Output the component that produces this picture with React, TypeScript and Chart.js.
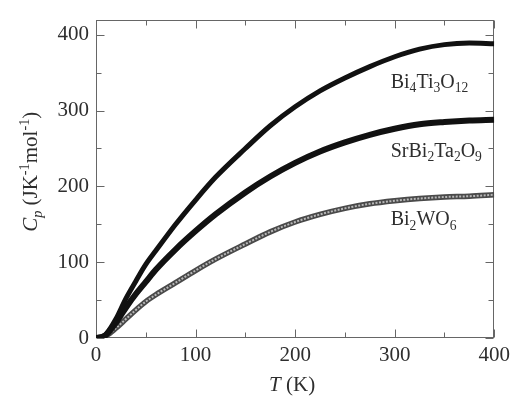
import React, { useEffect, useRef } from "react";
import { Chart, registerables } from "chart.js";

Chart.register(...registerables);

// Temperature (K)
const temperatures = [0, 5, 10, 20, 30, 40, 50, 60, 80, 100, 120, 150, 175, 200, 225, 250, 275, 300, 325, 350, 375, 400];
// Cp (J K^-1 mol^-1)
const bi4ti3o12 = [0, 1, 5, 25, 52, 75, 97, 115, 150, 182, 212, 250, 280, 305, 326, 343, 358, 371, 381, 387, 389, 388];
const srbi2ta2o9 = [0, 1, 4, 20, 40, 58, 74, 90, 117, 141, 163, 192, 213, 231, 246, 258, 268, 276, 282, 285, 287, 288];
const bi2wo6 = [0, 1, 3, 13, 25, 37, 48, 57, 73, 89, 104, 124, 140, 153, 163, 171, 177, 181, 184, 186, 187, 189];

const xTickValues = [0, 100, 200, 300, 400];
const yTickValues = [0, 100, 200, 300, 400];
const minorTickValues = [50, 150, 250, 350];

type Seg = { t: string; it?: boolean; pos?: "sub" | "sup" };

const seriesLabels: { x: number; y: number; segs: Seg[] }[] = [
  { x: 296, y: 339, segs: [{ t: "Bi" }, { t: "4", pos: "sub" }, { t: "Ti" }, { t: "3", pos: "sub" }, { t: "O" }, { t: "12", pos: "sub" }] },
  { x: 296, y: 248, segs: [{ t: "SrBi" }, { t: "2", pos: "sub" }, { t: "Ta" }, { t: "2", pos: "sub" }, { t: "O" }, { t: "9", pos: "sub" }] },
  { x: 296, y: 158, segs: [{ t: "Bi" }, { t: "2", pos: "sub" }, { t: "WO" }, { t: "6", pos: "sub" }] },
];

const yTitle: Seg[] = [
  { t: "C", it: true },
  { t: "p", it: true, pos: "sub" },
  { t: " (JK" },
  { t: "-1", pos: "sup" },
  { t: "mol" },
  { t: "-1", pos: "sup" },
  { t: ")" },
];
const xTitle: Seg[] = [{ t: "T", it: true }, { t: " (K)" }];

const FONT = "'Liberation Serif', 'Times New Roman', serif";
const TEXT = "#2e2e2e";

function segFont(s: Seg, size: number) {
  const sz = s.pos ? size * 0.68 : size;
  return `${s.it ? "italic " : ""}${sz}px ${FONT}`;
}

function drawRich(ctx: CanvasRenderingContext2D, x: number, y: number, segs: Seg[], size: number, align: "left" | "center") {
  ctx.save();
  ctx.textBaseline = "alphabetic";
  ctx.textAlign = "left";
  let total = 0;
  const widths = segs.map((s) => {
    ctx.font = segFont(s, size);
    const w = ctx.measureText(s.t).width;
    total += w;
    return w;
  });
  let cx = align === "center" ? x - total / 2 : x;
  segs.forEach((s, i) => {
    ctx.font = segFont(s, size);
    const dy = s.pos === "sub" ? size * 0.22 : s.pos === "sup" ? -size * 0.4 : 0;
    ctx.fillStyle = TEXT;
    ctx.fillText(s.t, cx, y + dy);
    cx += widths[i];
  });
  ctx.restore();
}

const framePlugin = {
  id: "frameTicks",
  beforeDatasetsDraw(chart: any) {
    const { ctx, chartArea } = chart;
    const xs = chart.scales.x;
    const ys = chart.scales.y;
    const l = Math.round(chartArea.left) + 0.5;
    const r = Math.round(chartArea.right) - 0.5;
    const t = Math.round(chartArea.top) + 0.5;
    const b = Math.round(chartArea.bottom) - 0.5;
    ctx.save();
    ctx.strokeStyle = "#666";
    ctx.lineWidth = 1;
    ctx.strokeRect(l, t, r - l, b - t);
    ctx.beginPath();
    const major = 8;
    const minor = 5;
    const drawX = (v: number, len: number) => {
      const px = Math.round(xs.getPixelForValue(v)) + 0.5;
      ctx.moveTo(px, b);
      ctx.lineTo(px, b - len);
      ctx.moveTo(px, t);
      ctx.lineTo(px, t + len);
    };
    const drawY = (v: number, len: number) => {
      const py = Math.round(ys.getPixelForValue(v)) + 0.5;
      ctx.moveTo(l, py);
      ctx.lineTo(l + len, py);
      ctx.moveTo(r, py);
      ctx.lineTo(r - len, py);
    };
    xTickValues.forEach((v) => drawX(v, major));
    minorTickValues.forEach((v) => drawX(v, minor));
    yTickValues.forEach((v) => drawY(v, major));
    minorTickValues.forEach((v) => drawY(v, minor));
    ctx.stroke();
    ctx.restore();
  },
  afterDraw(chart: any) {
    const { ctx, chartArea } = chart;
    const xs = chart.scales.x;
    const ys = chart.scales.y;
    seriesLabels.forEach((lb) => {
      const px = xs.getPixelForValue(lb.x);
      const py = ys.getPixelForValue(lb.y);
      drawRich(ctx, px, py + 7, lb.segs, 20, "left");
    });
    // x title
    drawRich(ctx, (chartArea.left + chartArea.right) / 2 - 3, 391, xTitle, 21, "center");
    // y title
    ctx.save();
    ctx.translate(37, (chartArea.top + chartArea.bottom) / 2 - 7);
    ctx.rotate(-Math.PI / 2);
    drawRich(ctx, 0, 0, yTitle, 21, "center");
    ctx.restore();
  },
};

export default function App() {
  const ref = useRef<HTMLCanvasElement | null>(null);
  useEffect(() => {
    if (!ref.current) return;
    const chart = new Chart(ref.current, {
      type: "line",
      data: {
        labels: temperatures,
        datasets: [
          {
            label: "Bi4Ti3O12",
            data: temperatures.map((t, i) => ({ x: t, y: bi4ti3o12[i] })),
            borderColor: "#111",
            borderWidth: 5,
            pointRadius: 0,
            cubicInterpolationMode: "monotone",
            order: 1,
          },
          {
            label: "SrBi2Ta2O9",
            data: temperatures.map((t, i) => ({ x: t, y: srbi2ta2o9[i] })),
            borderColor: "#111",
            borderWidth: 6,
            pointRadius: 0,
            cubicInterpolationMode: "monotone",
            order: 2,
          },
          {
            label: "Bi2WO6 inner",
            data: temperatures.map((t, i) => ({ x: t, y: bi2wo6[i] })),
            borderColor: "#b8b8b8",
            borderWidth: 2,
            borderDash: [2, 1.5],
            pointRadius: 0,
            cubicInterpolationMode: "monotone",
            order: 3,
          },
          {
            label: "Bi2WO6",
            data: temperatures.map((t, i) => ({ x: t, y: bi2wo6[i] })),
            borderColor: "#4a4a4a",
            borderWidth: 5.5,
            pointRadius: 0,
            cubicInterpolationMode: "monotone",
            order: 4,
          },
        ],
      },
      options: {
        animation: false,
        responsive: false,
        devicePixelRatio: 1,
        layout: { padding: { top: 6, right: 20, left: 0, bottom: 0 } },
        plugins: { legend: { display: false }, tooltip: { enabled: false } },
        scales: {
          x: {
            type: "linear",
            min: 0,
            max: 400,
            afterBuildTicks: (s: any) => {
              s.ticks = xTickValues.map((v) => ({ value: v }));
            },
            afterFit: (s: any) => {
              s.height = 59;
            },
            grid: { display: false, drawTicks: false },
            border: { display: false },
            ticks: { font: { family: FONT, size: 21 }, color: TEXT, padding: 5, maxRotation: 0 },
          },
          y: {
            type: "linear",
            min: 0,
            max: 420,
            afterBuildTicks: (s: any) => {
              s.ticks = yTickValues.map((v) => ({ value: v }));
            },
            afterFit: (s: any) => {
              s.width = 96;
            },
            grid: { display: false, drawTicks: false },
            border: { display: false },
            ticks: { font: { family: FONT, size: 21 }, color: TEXT, padding: 7 },
          },
        },
      },
      plugins: [framePlugin],
    } as any);
    return () => chart.destroy();
  }, []);
  return (
    <div style={{ position: "absolute", left: 0, top: 0, width: 515, height: 397, background: "#fff" }}>
      <canvas ref={ref} width={515} height={397} style={{ display: "block" }} />
    </div>
  );
}
